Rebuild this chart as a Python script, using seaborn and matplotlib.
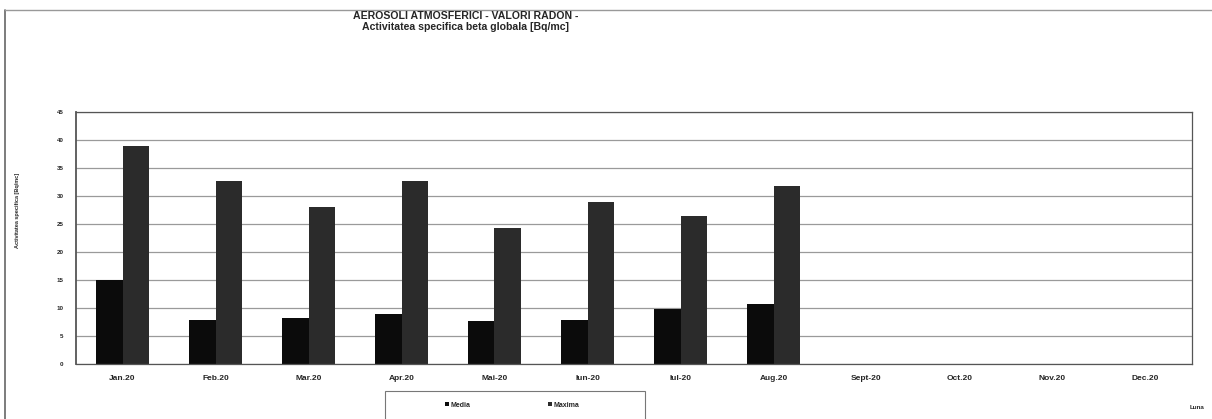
import pandas as pd
import numpy as np
import matplotlib
matplotlib.use('Agg')
import matplotlib.pyplot as plt
import seaborn as sns
from matplotlib.lines import Line2D
from matplotlib.patches import Patch, Rectangle

months = ["Jan.20", "Feb.20", "Mar.20", "Apr.20", "Mai-20", "Iun-20",
          "Iul-20", "Aug.20", "Sept-20", "Oct.20", "Nov.20", "Dec.20"]
media = [15.0, 7.8, 8.2, 8.9, 7.6, 7.9, 9.8, 10.8, np.nan, np.nan, np.nan, np.nan]
maxima = [39.0, 32.6, 28.0, 32.7, 24.3, 28.9, 26.5, 31.8, np.nan, np.nan, np.nan, np.nan]
series = ["Media", "Maxima"]
colors = ["#0b0b0b", "#2b2b2b"]

df = pd.DataFrame({
    "Luna": months * 2,
    "Serie": [series[0]] * len(months) + [series[1]] * len(months),
    "Valoare": media + maxima,
})

sns.set_style("white")
plt.rcParams['font.family'] = ['Liberation Sans', 'DejaVu Sans']

W, H = 1212, 419
fig = plt.figure(figsize=(W / 100, H / 100), dpi=100)
ax = fig.add_axes([76 / W, 1 - 364 / H, 1116 / W, 252 / H])

sns.barplot(data=df, x="Luna", y="Valoare", hue="Serie", order=months,
            hue_order=series, palette=colors, width=0.58, saturation=1,
            edgecolor="none", legend=False, ax=ax)

ax.set_ylim(0, 45)
ax.set_yticks(np.arange(0, 46, 5))
ax.yaxis.grid(True, color="#9a9a9a", linewidth=0.9)
ax.set_axisbelow(True)
for s in ax.spines.values():
    s.set_color("#555555")
    s.set_linewidth(0.9)
ax.spines["left"].set_linewidth(1.3)
ax.tick_params(axis="y", labelsize=4.5, length=3, color="#555555", pad=6)
ax.tick_params(axis="x", labelsize=6, length=2, color="#555555", pad=6)
for t in ax.get_yticklabels() + ax.get_xticklabels():
    t.set_fontweight("bold")
ax.set_xlabel("")
ax.set_ylabel("")

fig.text(18 / W, 1 - 210 / H, "Activitatea specifica [Bq/mc]", rotation=90,
         ha="center", va="center", fontsize=4, fontweight="bold")
fig.text(1197 / W, 1 - 407 / H, "Luna", ha="center", va="center",
         fontsize=4.5, fontweight="bold")
fig.text(466 / W, 1 - 16 / H, "AEROSOLI ATMOSFERICI - VALORI RADON -",
         ha="center", va="center", fontsize=7.6, fontweight="bold")
fig.text(466 / W, 1 - 27 / H, "Activitatea specifica beta globala [Bq/mc]",
         ha="center", va="center", fontsize=7.6, fontweight="bold")

# legend box, cut by the bottom of the page as in the scan
fig.add_artist(Rectangle((385 / W, -0.05), 260 / W, 0.05 + (H - 391) / H,
                         transform=fig.transFigure, facecolor="white",
                         edgecolor="#777777", lw=0.8))
handles = [Patch(facecolor=c, edgecolor="none") for c in colors]
fig.legend(handles, series, ncol=2, loc="center left",
           bbox_to_anchor=(445 / W, 1 - 405 / H),
           prop={"size": 5, "weight": "bold"}, frameon=False,
           handlelength=0.6, handleheight=0.6, handletextpad=0.2,
           columnspacing=11.2, borderpad=0, borderaxespad=0)

# outer frame of the scanned page
fig.add_artist(Line2D([5 / W, 5 / W], [0, 1 - 10 / H], color="#666666", lw=1.2))
fig.add_artist(Line2D([5 / W, 1], [1 - 10 / H, 1 - 10 / H], color="#999999", lw=1.0))

fig.savefig("out.png", dpi=100)
